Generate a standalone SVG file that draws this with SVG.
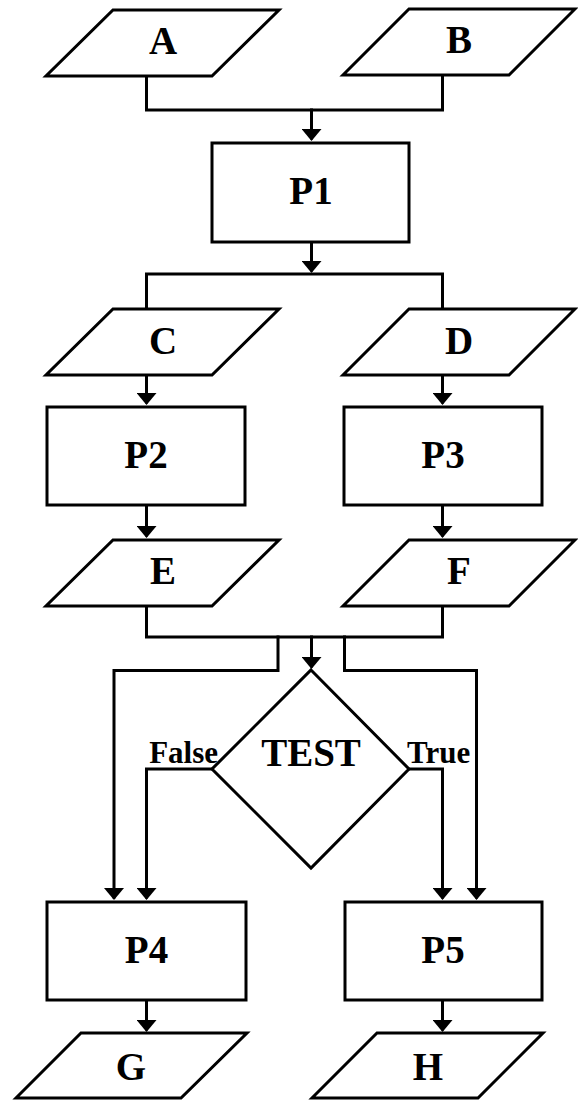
<svg xmlns="http://www.w3.org/2000/svg" width="578" height="1100" viewBox="0 0 578 1100">
  <style>
    .shape { fill: #ffffff; stroke: #000000; stroke-width: 3; stroke-linejoin: miter; }
    .wire { fill: none; stroke: #000000; stroke-width: 3; stroke-linejoin: miter; stroke-linecap: square; }
    .arrow { marker-end: url(#head); }
    .label { font-family: "Liberation Serif", "Times New Roman", serif; font-weight: bold; font-size: 39px; fill: #000000; text-anchor: middle; }
    .branch { font-family: "Liberation Serif", "Times New Roman", serif; font-weight: bold; font-size: 31px; fill: #000000; }
  </style>
  <defs>
    <marker id="head" viewBox="0 0 12 20" refX="9" refY="10" markerWidth="12" markerHeight="20" markerUnits="userSpaceOnUse" orient="auto">
      <path d="M0,0 L12,10 L0,20 Z" fill="#000000"/>
    </marker>
  </defs>

  <rect width="578" height="1100" fill="#ffffff"/>

  <!-- connectors -->
  <g id="connectors">
    <path class="wire" d="M146.5 76 V110 H442.5 V75"/>
    <path class="wire arrow" d="M311.5 110 V138"/>
    <path class="wire arrow" d="M311.5 242 V270"/>
    <path class="wire" d="M146.5 309 V274 H442.5 V309"/>
    <path class="wire arrow" d="M146.5 375 V402"/>
    <path class="wire arrow" d="M442.5 375 V402"/>
    <path class="wire arrow" d="M146.5 505 V535"/>
    <path class="wire arrow" d="M442.5 505 V535"/>
    <path class="wire" d="M146.5 606 V637 H442.5 V606"/>
    <path class="wire arrow" d="M311.5 637 V666"/>
    <path class="wire arrow" d="M278 637 V670.5 H114 V897"/>
    <path class="wire arrow" d="M344.5 637 V670.5 H476.5 V897"/>
    <path class="wire arrow" d="M212 769 H146.5 V897"/>
    <path class="wire arrow" d="M409 769 H442.5 V897"/>
    <path class="wire arrow" d="M146.5 1000 V1029"/>
    <path class="wire arrow" d="M442.5 1000 V1029"/>
  </g>

  <g id="A">
    <polygon class="shape" points="113,10 279,10 212,76 46,76"/>
    <text class="label" x="163" y="54">A</text>
  </g>
  <g id="B">
    <polygon class="shape" points="409,9 575,9 509,75 343,75"/>
    <text class="label" x="459" y="53">B</text>
  </g>
  <g id="P1">
    <rect class="shape" x="212" y="143" width="197" height="99"/>
    <text class="label" x="311" y="204">P1</text>
  </g>
  <g id="C">
    <polygon class="shape" points="113,309 279,309 212,375 46,375"/>
    <text class="label" x="163" y="354">C</text>
  </g>
  <g id="D">
    <polygon class="shape" points="409,309 575,309 509,375 343,375"/>
    <text class="label" x="459" y="354">D</text>
  </g>
  <g id="P2">
    <rect class="shape" x="47" y="407" width="198" height="98"/>
    <text class="label" x="146" y="468">P2</text>
  </g>
  <g id="P3">
    <rect class="shape" x="344" y="407" width="198" height="98"/>
    <text class="label" x="443" y="468">P3</text>
  </g>
  <g id="E">
    <polygon class="shape" points="113,540 279,540 212,606 46,606"/>
    <text class="label" x="163" y="584">E</text>
  </g>
  <g id="F">
    <polygon class="shape" points="409,540 575,540 509,606 343,606"/>
    <text class="label" x="459" y="584">F</text>
  </g>
  <g id="TEST">
    <polygon class="shape" points="311,670 409,769 311,868 212,769"/>
    <text class="label" x="311" y="766">TEST</text>
    <text class="branch" x="218" y="763" text-anchor="end">False</text>
    <text class="branch" x="407" y="763">True</text>
  </g>
  <g id="P4">
    <rect class="shape" x="47" y="902" width="199" height="98"/>
    <text class="label" x="146.5" y="963">P4</text>
  </g>
  <g id="P5">
    <rect class="shape" x="345" y="902" width="197" height="98"/>
    <text class="label" x="443" y="963">P5</text>
  </g>
  <g id="G">
    <polygon class="shape" points="81,1033 247,1033 181,1098 16,1098"/>
    <text class="label" x="131" y="1080">G</text>
  </g>
  <g id="H">
    <polygon class="shape" points="377,1033 543,1033 478,1098 312,1098"/>
    <text class="label" x="428" y="1080">H</text>
  </g>
</svg>
